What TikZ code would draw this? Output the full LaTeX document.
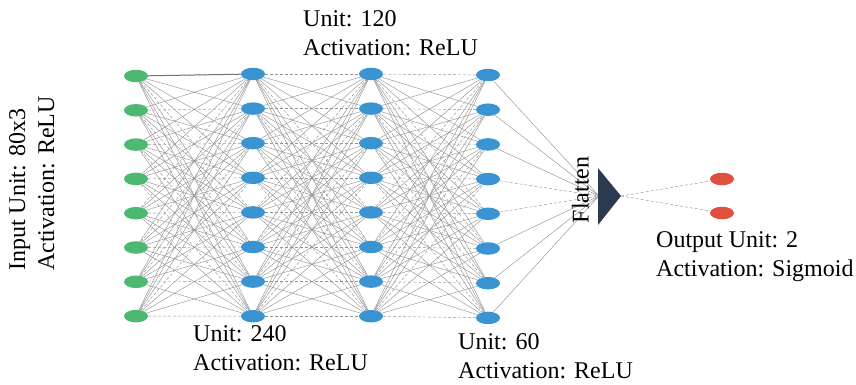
\documentclass[tikz,border=0pt]{standalone}
\usepackage{fontspec}
\setmainfont{Liberation Serif}
\usetikzlibrary{shapes.geometric,backgrounds}
\definecolor{ingreen}{HTML}{4DB872}
\definecolor{hidblue}{HTML}{3A94D2}
\definecolor{outred}{HTML}{E0503F}
\definecolor{flatnavy}{HTML}{2B3A4F}
\tikzset{
  neuron/.style={ellipse,minimum width=24pt,minimum height=12.5pt,inner sep=0pt},
  innode/.style={neuron,fill=ingreen},
  hidnode/.style={neuron,fill=hidblue},
  outnode/.style={neuron,fill=outred},
  wire/.style={draw=black!42,line width=0.45pt},
  dwire/.style={wire,dash pattern=on 3pt off 2pt},
  lbl/.style={font=\fontsize{24}{29}\selectfont,align=left,anchor=north west,inner sep=0pt}
}
\begin{document}
\begin{tikzpicture}[x=1pt,y=-1pt]
\useasboundingbox (0,0) rectangle (856,385);
% layers of neurons
\foreach \k in {1,...,8}{
  \pgfmathsetmacro{\yy}{76+(\k-1)*34.3}
  \node[innode] (a\k) at (136,\yy) {};
  \pgfmathsetmacro{\yb}{74+(\k-1)*34.6}
  \node[hidnode] (b\k) at (253,\yb) {};
  \node[hidnode] (c\k) at (371,\yb) {};
  \pgfmathsetmacro{\yd}{75+(\k-1)*34.7}
  \node[hidnode] (d\k) at (488,\yd) {};
}
\node[outnode] (o1) at (722,179) {};
\node[outnode] (o2) at (722,213) {};
% flatten block
\fill[flatnavy] (598,168) -- (621,196) -- (598,225) -- cycle;
\coordinate (fin) at (599,196);
\coordinate (fout) at (621,196);
% dense connections
\begin{pgfonlayer}{background}
\foreach \i in {1,...,8}{
  \foreach \j in {1,...,8}{
    \pgfmathtruncatemacro{\m}{mod(3*\i+5*\j,4)}
    \ifnum\m=0
      \draw[dwire] (a\i) -- (b\j);
      \draw[dwire] (b\i) -- (c\j);
      \draw[dwire] (c\i) -- (d\j);
    \else
      \draw[wire] (a\i) -- (b\j);
      \draw[wire] (b\i) -- (c\j);
      \draw[wire] (c\i) -- (d\j);
    \fi
  }
}
\draw[black!55,line width=1pt] (a1) -- (b1);
\foreach \i in {1,2,3,6,7,8}{ \draw[wire] (d\i) -- (fin); }
\foreach \i in {4,5}{ \draw[dwire] (d\i) -- (fin); }
\draw[dwire] (fout) -- (o1);
\draw[dwire] (fout) -- (o2);
\end{pgfonlayer}
% labels
\node[lbl,rotate=90,anchor=north west] (inlbl) at (9,271) {Input Unit: 80x3\\Activation: ReLU};
\node[lbl,rotate=90,anchor=south] (flbl) at (589,190) {Flatten};
\node[lbl] (l120) at (303,10) {Unit: 120\\Activation: ReLU};
\node[lbl] (l240) at (193,325) {Unit: 240\\Activation: ReLU};
\node[lbl] (l60) at (458,333) {Unit: 60\\Activation: ReLU};
\node[lbl] (lout) at (656,231) {Output Unit: 2\\Activation: Sigmoid};
\end{tikzpicture}
\end{document}
